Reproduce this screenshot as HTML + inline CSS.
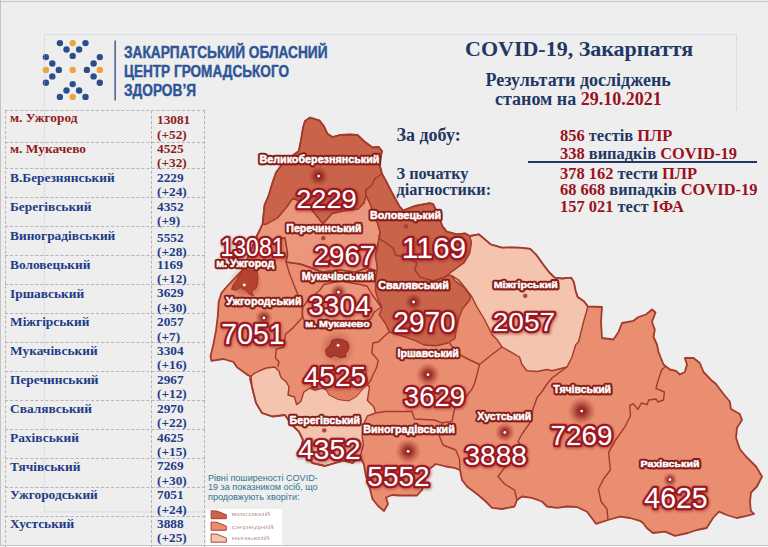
<!DOCTYPE html>
<html lang="uk"><head><meta charset="utf-8"><title>COVID-19, Закарпаття</title>
<style>
html,body{margin:0;padding:0}
body{width:768px;height:547px;overflow:hidden;background:#eeeeee;position:relative;font-family:"Liberation Serif",serif}
.frame{position:absolute;background:#c4c4c4}
#tbl{position:absolute;left:0;top:0}
.hl{position:absolute;left:4.5px;width:200px;height:0;border-top:1px dashed #b5b5b5}
.row{position:absolute;left:4.5px;width:200px;height:28px;padding-top:1px;box-sizing:border-box;font-weight:bold;font-size:13.3px;line-height:14.3px}
.row.r{color:#8e1d1d} .row.b{color:#1f3c88}
.row .n{position:absolute;left:5.5px;top:0.5px;white-space:nowrap;font-size:13.4px}
.row .v{position:absolute;left:152.5px;top:0.3px;white-space:nowrap}
.vl{position:absolute;top:110.5px;height:437px;width:0;border-left:1px dashed #b5b5b5}
.t{position:absolute;white-space:nowrap;font-weight:bold;color:#1f3864}
.red{color:#9b111e}
#legend{position:absolute;left:208px;top:474px;font-family:"Liberation Sans",sans-serif;font-size:9.07px;line-height:9.45px;color:#2e7590;white-space:nowrap}
#lbox{position:absolute;left:206px;top:508.7px;width:75.5px;height:36px;background:#fff}
#lbox span{position:absolute;left:27px;font-family:"Liberation Sans",sans-serif;font-size:5.5px;color:#c9a79a;letter-spacing:0.2px}
</style></head><body>
<div class="frame" style="left:0;top:1px;width:768px;height:1px"></div>
<div class="frame" style="left:0;top:0;width:1px;height:547px"></div>
<div class="frame" style="left:0;top:545px;width:768px;height:1px"></div>
<div style="position:absolute;left:0;top:546px;width:768px;height:1px;background:#fafafa"></div>
<svg width="768" height="547" viewBox="0 0 768 547" style="position:absolute;left:0;top:0">
<circle cx="59.9" cy="43.1" r="3.2" fill="#2b4f8e"/>
<circle cx="72.7" cy="43.1" r="3.2" fill="#f0a23c"/>
<circle cx="85.5" cy="43.1" r="3.2" fill="#2b4f8e"/>
<circle cx="66.5" cy="49.5" r="3.2" fill="#2b4f8e"/>
<circle cx="79.1" cy="49.5" r="3.2" fill="#2b4f8e"/>
<circle cx="72.7" cy="55.9" r="3.2" fill="#2b4f8e"/>
<circle cx="72.7" cy="84.1" r="3.2" fill="#2b4f8e"/>
<circle cx="66.5" cy="90.5" r="3.2" fill="#2b4f8e"/>
<circle cx="79.1" cy="90.5" r="3.2" fill="#2b4f8e"/>
<circle cx="59.9" cy="96.9" r="3.2" fill="#2b4f8e"/>
<circle cx="72.7" cy="96.9" r="3.2" fill="#f0a23c"/>
<circle cx="85.5" cy="96.9" r="3.2" fill="#2b4f8e"/>
<circle cx="45.9" cy="57.1" r="3.2" fill="#2b4f8e"/>
<circle cx="52.3" cy="63.5" r="3.2" fill="#2b4f8e"/>
<circle cx="45.9" cy="69.9" r="3.2" fill="#f0a23c"/>
<circle cx="58.8" cy="69.9" r="3.2" fill="#2b4f8e"/>
<circle cx="52.3" cy="76.4" r="3.2" fill="#2b4f8e"/>
<circle cx="45.9" cy="82.8" r="3.2" fill="#2b4f8e"/>
<circle cx="99.8" cy="57.1" r="3.2" fill="#2b4f8e"/>
<circle cx="93.6" cy="63.5" r="3.2" fill="#2b4f8e"/>
<circle cx="86.9" cy="69.9" r="3.2" fill="#2b4f8e"/>
<circle cx="99.8" cy="69.9" r="3.2" fill="#f0a23c"/>
<circle cx="93.6" cy="76.4" r="3.2" fill="#2b4f8e"/>
<circle cx="99.8" cy="82.8" r="3.2" fill="#2b4f8e"/>
<circle cx="72.7" cy="69.9" r="3.2" fill="#f0a23c"/>
<rect x="114.4" y="40.5" width="1.5" height="60" fill="#3f5f95"/>
<text x="124" y="58" textLength="203.5" lengthAdjust="spacingAndGlyphs" font-family="Liberation Sans, sans-serif" font-weight="bold" font-size="16.8" fill="#2d5597" stroke="#2d5597" stroke-width="0.45">ЗАКАРПАТСЬКИЙ ОБЛАСНИЙ</text>
<text x="124" y="77" textLength="165" lengthAdjust="spacingAndGlyphs" font-family="Liberation Sans, sans-serif" font-weight="bold" font-size="16.8" fill="#2d5597" stroke="#2d5597" stroke-width="0.45">ЦЕНТР ГРОМАДСЬКОГО</text>
<text x="124" y="95.5" textLength="72" lengthAdjust="spacingAndGlyphs" font-family="Liberation Sans, sans-serif" font-weight="bold" font-size="16.8" fill="#2d5597" stroke="#2d5597" stroke-width="0.45">ЗДОРОВ’Я</text>
<path d="M44.5,512 V34.5 H736.5 V110" fill="none" stroke="#a3bbe0" stroke-width="1" stroke-dasharray="1,1" opacity="0.6"/>
<path d="M44.5,512 H205" fill="none" stroke="#a3bbe0" stroke-width="1" stroke-dasharray="1,1" opacity="0.6"/>
</svg>
<div id="tbl">
<div class="hl" style="top:109.8px"></div>
<div class="hl" style="top:141.8px"></div>
<div class="hl" style="top:168.4px"></div>
<div class="hl" style="top:197.4px"></div>
<div class="hl" style="top:226.3px"></div>
<div class="hl" style="top:255.3px"></div>
<div class="hl" style="top:284.2px"></div>
<div class="hl" style="top:313.2px"></div>
<div class="hl" style="top:342.2px"></div>
<div class="hl" style="top:371.1px"></div>
<div class="hl" style="top:400.1px"></div>
<div class="hl" style="top:429.0px"></div>
<div class="hl" style="top:458.0px"></div>
<div class="hl" style="top:487.0px"></div>
<div class="hl" style="top:515.9px"></div>
<div class="row r" style="top:109.8px"><span class="n" style="margin-top:1.00px">м. Ужгород</span><span class="v" style="margin-top:3.40px">13081<br>(+52)</span></div>
<div class="row r" style="top:141.8px"><span class="n" style="margin-top:0.09px">м. Мукачево</span><span class="v" style="margin-top:0.09px">4525<br>(+32)</span></div>
<div class="row b" style="top:170.6px"><span class="n" style="margin-top:0.18px">В.Березнянський</span><span class="v" style="margin-top:0.18px">2229<br>(+24)</span></div>
<div class="row b" style="top:199.3px"><span class="n" style="margin-top:0.27px">Берегівський</span><span class="v" style="margin-top:0.27px">4352<br>(+9)</span></div>
<div class="row b" style="top:228.1px"><span class="n" style="margin-top:0.36px">Виноградівський</span><span class="v" style="margin-top:2.16px">5552<br>(+28)</span></div>
<div class="row b" style="top:256.8px"><span class="n" style="margin-top:0.45px">Воловецький</span><span class="v" style="margin-top:0.45px">1169<br>(+12)</span></div>
<div class="row b" style="top:285.6px"><span class="n" style="margin-top:0.54px">Іршавський</span><span class="v" style="margin-top:0.54px">3629<br>(+30)</span></div>
<div class="row b" style="top:314.3px"><span class="n" style="margin-top:0.63px">Міжгірський</span><span class="v" style="margin-top:0.63px">2057<br>(+7)</span></div>
<div class="row b" style="top:343.1px"><span class="n" style="margin-top:0.72px">Мукачівський</span><span class="v" style="margin-top:0.72px">3304<br>(+16)</span></div>
<div class="row b" style="top:371.8px"><span class="n" style="margin-top:0.81px">Перечинський</span><span class="v" style="margin-top:0.81px">2967<br>(+12)</span></div>
<div class="row b" style="top:400.6px"><span class="n" style="margin-top:0.90px">Свалявський</span><span class="v" style="margin-top:0.90px">2970<br>(+22)</span></div>
<div class="row b" style="top:429.3px"><span class="n" style="margin-top:0.99px">Рахівський</span><span class="v" style="margin-top:0.99px">4625<br>(+15)</span></div>
<div class="row b" style="top:458.1px"><span class="n" style="margin-top:1.08px">Тячівський</span><span class="v" style="margin-top:1.08px">7269<br>(+30)</span></div>
<div class="row b" style="top:486.8px"><span class="n" style="margin-top:1.17px">Ужгородський</span><span class="v" style="margin-top:1.17px">7051<br>(+24)</span></div>
<div class="row b" style="top:515.5px"><span class="n" style="margin-top:1.26px">Хустський</span><span class="v" style="margin-top:1.26px">3888<br>(+25)</span></div>
</div>
<div class="vl" style="left:4.5px"></div><div class="vl" style="left:151px"></div><div class="vl" style="left:204px"></div>
<div class="t" style="left:465px;top:35.5px;font-size:22px;line-height:26px">COVID-19, Закарпаття</div>
<div class="t" style="left:485.5px;top:69.5px;font-size:18px;line-height:21px">Результати досліджень</div>
<div class="t" style="left:495px;top:89px;font-size:18px;line-height:21px">станом на <span class="red">29.10.2021</span></div>
<div class="t" style="left:396.5px;top:124.5px;font-size:18px;line-height:21px">За добу:</div>
<div class="t" style="left:396.5px;top:164px;font-size:16.3px;line-height:19px">З початку</div>
<div class="t" style="left:396.5px;top:180.25px;font-size:16.3px;line-height:19px">діагностики:</div>
<div class="t" style="left:560px;top:126px;font-size:16.45px;line-height:19px"><span class="red">856</span> тестів <span class="red">ПЛР</span></div>
<div class="t" style="left:560px;top:143.75px;font-size:16.45px;line-height:19px"><span class="red">338</span> випадків <span class="red">COVID-19</span></div>
<div style="position:absolute;left:528px;top:161px;width:229px;height:1.5px;background:#1f3864"></div>
<div class="t" style="left:560px;top:163.75px;font-size:16.45px;line-height:19px"><span class="red">378 162</span> тести <span class="red">ПЛР</span></div>
<div class="t" style="left:560px;top:180.25px;font-size:16.45px;line-height:19px"><span class="red">68 668</span> випадків <span class="red">COVID-19</span></div>
<div class="t" style="left:560px;top:197px;font-size:16.45px;line-height:19px"><span class="red">157 021</span> тест <span class="red">ІФА</span></div>
<svg id="map" width="768" height="547" viewBox="0 0 768 547" style="position:absolute;left:0;top:0">
<defs><radialGradient id="glow"><stop offset="0" stop-color="#851414" stop-opacity="0.95"/><stop offset="0.3" stop-color="#861616" stop-opacity="0.75"/><stop offset="0.6" stop-color="#8b1a1a" stop-opacity="0.38"/><stop offset="1" stop-color="#a03020" stop-opacity="0"/></radialGradient><radialGradient id="glow2"><stop offset="0" stop-color="#8b1a1a" stop-opacity="0.55"/><stop offset="0.5" stop-color="#8b1a1a" stop-opacity="0.3"/><stop offset="1" stop-color="#a03020" stop-opacity="0"/></radialGradient><filter id="sh" x="-10%" y="-20%" width="120%" height="150%"><feGaussianBlur stdDeviation="1.2"/></filter><filter id="sh2" x="-10%" y="-30%" width="120%" height="170%"><feGaussianBlur stdDeviation="0.7"/></filter></defs>
<polygon points="303,127.5 305,121 310,117.5 319.5,120.5 323.8,126 327.5,133.8 332.5,137 340,135 350,134.5 357.5,135 363.8,141 372.5,147.5 378.8,147 382,151 380.5,158.8 380,166 382,173.8 386,181 392,192.7 399.3,206 403,210.5 414.8,206 429.5,203.2 433,204 438.6,215 442.3,226 446.8,231.6 456.9,234.3 465,233.4 469.7,236 478.8,234.3 484.3,238.9 490.7,244.4 502,247.6 511,247.4 520,247.6 530.2,248.8 536.6,255.2 543,264.2 549.4,272.5 554.6,277.6 562.3,278.5 571.2,277.6 573.8,282 575.7,291 577.6,296.9 584,301.3 587.9,306.5 602,307 601,322 602,338 613.5,339.5 618.5,332 622,323 633.5,320.8 638.5,317 646,314.5 652,309.5 655.5,312.5 652,322 654.8,329.5 653.5,337 657,344.5 658.5,352 663.5,364.5 669.8,369.5 676,370.8 679.8,374.5 684.8,372 687,364.5 684.8,358 693.5,358 699.8,363 703.5,372 712,380.8 716,384 723.5,394 729.8,401.5 731,409 739.8,414 742,420 737,427.8 736,437.8 739.8,449 746,456.5 756,466.5 762,476.5 757,486.5 751,492.5 750,501.7 750.8,510.8 754,514 746.7,515.8 736.7,518 726.7,515 719,511.7 713,518 706.7,528 696.7,530 688,533 675,535.8 665,531.7 653,533 646.7,528 643,523 640,520.8 630,518 620,516.6 608,520 596,523.8 587,511.8 577,507 567,506.5 557,507.8 547,506.5 542,501.5 532,497.8 522,496.5 517,500 514.5,506.5 502,509 492,507.8 485.8,501.5 477,494 467,486.5 462,480 460,470 454.5,467.8 445.8,466.5 435.8,464 429.5,469 425,480 422,490 417,495.5 399.5,495.5 392,495 386,497.5 388,504 384,511 378,506 372.5,499 370,489 366,476.5 363.8,464 360,457 352.5,463 343.8,460.5 335,463 325,466 312.5,463 307.5,458 300,451.5 303,440 298.8,431.5 291,424 285,415 272.5,416.5 262,413 256,403 252,387 250.7,376.4 247,374.6 237,367.3 233.3,361.8 223.3,359 211.4,360.9 210.5,356.3 213.2,345.3 216,330.7 217.8,316 218.7,301.5 221.5,293 226.9,286.5 233,280 241.6,271 249,255 257,235.6 259.8,230 262.6,223.8 263.5,214.6 264.5,205 268.8,195 272.5,182.5 276,172.5 282.5,163.8 290,157.5 298.8,151 301,140" fill="#e98e71" stroke="none"/>
<polygon points="323.8,284.5 320.3,289.7 308.2,300 303,307 302,315.8 306.5,324.4 320,327 350,327 370.7,319 374.2,312.3 381,307 372.4,295 367.2,286.3 360.3,284.5 340,281" fill="#ea967c" stroke="#a33b2c" stroke-width="1.4" stroke-linejoin="round"/>
<polygon points="265.5,224.5 277.4,218 286.6,207 293,198 305,204 314,212.6 323,223.8 332,213.5 345,210.5 358,209 364,203 366,195 371,206 377.4,222.4 380,231.6 378.3,242.5 375.5,255.3 377.4,268 376.9,271 367,268 355,272 340,270 322,272 312,268 300,264 286,262 287.6,254 285,238 272,240 262,243 254,243 257,235.6 259.8,230 262.6,223.8" fill="#eb977d" stroke="#a33b2c" stroke-width="1.4" stroke-linejoin="round"/>
<polygon points="303,127.5 305,121 310,117.5 319.5,120.5 323.8,126 327.5,133.8 332.5,137 340,135 350,134.5 357.5,135 363.8,141 372.5,147.5 378.8,147 382,151 380.5,158.8 380,166 382,173.8 375,178.8 372,185 366,190 366,195 364,203 358,209 345,210.5 332,213.5 323,223.8 314,212.6 305,204 293,198 286.6,207 277.4,218 265.5,224.5 262.6,223.8 263.5,214.6 264.5,205 268.8,195 272.5,182.5 276,172.5 282.5,163.8 290,157.5 298.8,151 301,140" fill="#c9634a" stroke="#a33b2c" stroke-width="1.4" stroke-linejoin="round"/>
<polygon points="382,173.8 386,181 392,192.7 399.3,206 403,210.5 414.8,206 429.5,203.2 433,204 438.6,215 442.3,226 446.8,231.6 456.9,234.3 465,233.4 469.7,236 471.5,242.5 469.7,253.5 464.2,262.6 456.9,268 451.4,271.8 447.7,275.4 444,277.3 433,281 420.3,277.3 414.8,270 416.7,262.6 408,258 395.6,255.3 393,248 386,243 379.2,238.9 380,231.6 377.4,222.4 371,206 366,195 366,190 372,185 375,178.8" fill="#c9634a" stroke="#a33b2c" stroke-width="1.4" stroke-linejoin="round"/>
<polygon points="377.4,222.4 380,231.6 379.2,238.9 386,243 393,248 395.6,255.3 408,258 416.7,262.6 414.8,270 420.3,277.3 433,281 444,277.3 447.7,275.4 451.4,275.4 455,281 464.2,287.3 470.6,296.5 469.7,300 462.4,309 458.7,318.4 456,331 455,338.5 447.8,343 436.8,345.8 424,345 414.8,340.3 402,336 389.3,332 385.6,323.9 379.2,314.7 382,307.4 378.3,300 375.5,291 375.5,281 377.4,268 375.5,255.3 378.3,242.5 380,231.6" fill="#c9634a" stroke="#a33b2c" stroke-width="1.4" stroke-linejoin="round"/>
<polygon points="469.7,236 478.8,234.3 484.3,238.9 490.7,244.4 502,247.6 511,247.4 520,247.6 530.2,248.8 536.6,255.2 543,264.2 549.4,272.5 554.6,277.6 562.3,278.5 571.2,277.6 573.8,282 575.7,291 577.6,296.9 584,301.3 587.9,306.5 583.5,322 578.5,342 575.8,344.5 572,357 567,367 552,370.8 547,369.5 537,371.5 527,370.8 522,364.5 519.5,357 502,347 497,339.5 492,334.5 484.5,319.5 477,307 472,297 464.5,287 458.7,280 451.4,275.4 447.7,275.4 451.4,271.8 456.9,268 464.2,262.6 469.7,253.5 471.5,242.5" fill="#f4c4ae" stroke="#a33b2c" stroke-width="1.4" stroke-linejoin="round"/>
<polygon points="249.7,378.5 252.8,374.4 259,371 266.4,368 274.7,367 278.9,371 281,377.5 286,381.7 289,387 288,395 294.5,397 296.6,404.6 300.8,401.5 303.9,392 310,388 315,390 322.6,388 326.8,390 332,395 340,399.4 348.7,400.4 354.9,396 361,389 367.4,384.8 369.5,387 367.4,400.4 373.7,406.7 375.7,413 367.4,416 365,421 362,435.4 363.4,444.6 360,457 352.5,463 343.8,460.5 335,463 325,466 312.5,463 307.5,458 300,451.5 303,440 298.8,431.5 291,424 285,415 272.5,416.5 262,413 256,403 252,387" fill="#f4c4ae" stroke="#a33b2c" stroke-width="1.4" stroke-linejoin="round"/>
<polygon points="322,370 325,387 328.8,394.9 338,399.5 349,401 356.8,396.4 363,388.7 367.6,384 366,370" fill="#e17d61" stroke="#a33b2c" stroke-width="1" stroke-linejoin="round"/>
<polyline points="252,245 262,243 272,240 285,238 287.6,254 286,262 300,264 312,268 322,272 340,270 355,272 367,268 376.9,271" fill="none" stroke="#a33b2c" stroke-width="1.4" stroke-linejoin="round"/>
<polyline points="286,262 290,275 296,290 301.9,305 302.8,317 292.8,328 285.4,334.4 283.6,347.2 276.3,349 275.4,358 279,362 277.8,367" fill="none" stroke="#a33b2c" stroke-width="1.4" stroke-linejoin="round"/>
<polyline points="389.3,332 383.8,336.7 378.3,342 372.8,343 371.9,353 378.3,360.4 376.5,367.8 372.8,375 371,380 367.4,384.8" fill="none" stroke="#a33b2c" stroke-width="1.4" stroke-linejoin="round"/>
<polyline points="375.7,413 385,411.5 392,411.5 412,411.5 414.5,419 434.5,420 442,422.8 452,421.5 454.5,409 464.5,399 472,389 474.5,383.8 477,374.5 479.5,364.5 492,354.5 502,347" fill="none" stroke="#a33b2c" stroke-width="1.4" stroke-linejoin="round"/>
<polyline points="442,422.8 439.5,436.5 443,445 455.8,450 459.5,459 460,470" fill="none" stroke="#a33b2c" stroke-width="1.4" stroke-linejoin="round"/>
<polyline points="567,367 560,372 552,378 547,384 542,391.5 537,397.8 533,409 530.8,421.5 522,434 518,441.5 522,446.5 517,456.5 504.5,467.8 498,476.5 504.5,484 514.5,490 517,500" fill="none" stroke="#a33b2c" stroke-width="1.4" stroke-linejoin="round"/>
<polyline points="449.5,343 455,350 462,356 470,360 479.5,364.5" fill="none" stroke="#a33b2c" stroke-width="1.4" stroke-linejoin="round"/>
<polyline points="664.8,367 661.6,370 658,381 656,388.3 664.4,392 663.5,400 658,402 656,399 648.8,400 647,404.7 641.5,403 637.9,409.3 633.3,403.8 629.6,405.6 630.5,415.7 625,426.7 616,439.5 608.6,452.3 610.4,470 603.5,479 598.5,489 601,501.5 607,509 608,520" fill="none" stroke="#a33b2c" stroke-width="1.4" stroke-linejoin="round"/>
<polygon points="303,127.5 305,121 310,117.5 319.5,120.5 323.8,126 327.5,133.8 332.5,137 340,135 350,134.5 357.5,135 363.8,141 372.5,147.5 378.8,147 382,151 380.5,158.8 380,166 382,173.8 386,181 392,192.7 399.3,206 403,210.5 414.8,206 429.5,203.2 433,204 438.6,215 442.3,226 446.8,231.6 456.9,234.3 465,233.4 469.7,236 478.8,234.3 484.3,238.9 490.7,244.4 502,247.6 511,247.4 520,247.6 530.2,248.8 536.6,255.2 543,264.2 549.4,272.5 554.6,277.6 562.3,278.5 571.2,277.6 573.8,282 575.7,291 577.6,296.9 584,301.3 587.9,306.5 602,307 601,322 602,338 613.5,339.5 618.5,332 622,323 633.5,320.8 638.5,317 646,314.5 652,309.5 655.5,312.5 652,322 654.8,329.5 653.5,337 657,344.5 658.5,352 663.5,364.5 669.8,369.5 676,370.8 679.8,374.5 684.8,372 687,364.5 684.8,358 693.5,358 699.8,363 703.5,372 712,380.8 716,384 723.5,394 729.8,401.5 731,409 739.8,414 742,420 737,427.8 736,437.8 739.8,449 746,456.5 756,466.5 762,476.5 757,486.5 751,492.5 750,501.7 750.8,510.8 754,514 746.7,515.8 736.7,518 726.7,515 719,511.7 713,518 706.7,528 696.7,530 688,533 675,535.8 665,531.7 653,533 646.7,528 643,523 640,520.8 630,518 620,516.6 608,520 596,523.8 587,511.8 577,507 567,506.5 557,507.8 547,506.5 542,501.5 532,497.8 522,496.5 517,500 514.5,506.5 502,509 492,507.8 485.8,501.5 477,494 467,486.5 462,480 460,470 454.5,467.8 445.8,466.5 435.8,464 429.5,469 425,480 422,490 417,495.5 399.5,495.5 392,495 386,497.5 388,504 384,511 378,506 372.5,499 370,489 366,476.5 363.8,464 360,457 352.5,463 343.8,460.5 335,463 325,466 312.5,463 307.5,458 300,451.5 303,440 298.8,431.5 291,424 285,415 272.5,416.5 262,413 256,403 252,387 250.7,376.4 247,374.6 237,367.3 233.3,361.8 223.3,359 211.4,360.9 210.5,356.3 213.2,345.3 216,330.7 217.8,316 218.7,301.5 221.5,293 226.9,286.5 233,280 241.6,271 249,255 257,235.6 259.8,230 262.6,223.8 263.5,214.6 264.5,205 268.8,195 272.5,182.5 276,172.5 282.5,163.8 290,157.5 298.8,151 301,140" fill="none" stroke="#a33b2c" stroke-width="1.8" stroke-linejoin="round"/>
<circle cx="246" cy="283" r="17" fill="url(#glow2)"/>
<circle cx="337.5" cy="348" r="18" fill="url(#glow2)"/>
<polygon points="241.5,271 245.2,269.6 257,271 258,276.5 257.5,283.8 256.1,288.3 251.6,291 253.4,295.6 249.7,294.7 246,290.2 240.6,287.4 236,290.2 231.5,289.3 233.3,284.7 236.9,280 239.7,274.6" fill="#b5432f" stroke="#9a3426" stroke-width="1" stroke-linejoin="round"/>
<polygon points="331.9,340.5 336.6,339 342.8,339.8 347.5,342 349,346.7 347.5,351.4 345,353.7 345.9,356.8 339.7,357.6 335,355.3 330.4,357.6 326.5,355.3 325.7,349.8 328.8,346.7 331.1,343.6" fill="#a93a2c" stroke="#8e2a20" stroke-width="1" stroke-linejoin="round"/>
<circle cx="318.6" cy="176.1" r="10.1" fill="url(#glow)"/>
<circle cx="318.6" cy="176.1" r="1.4" fill="#fff"/>
<circle cx="323.3" cy="238.2" r="1.9" fill="#a8483c" stroke="#96382c" stroke-width="0.6"/>
<circle cx="406" cy="226.4" r="1.9" fill="#a8483c" stroke="#96382c" stroke-width="0.6"/>
<circle cx="244.3" cy="285" r="1.4" fill="#fff"/>
<circle cx="338.5" cy="292.2" r="8.8" fill="url(#glow)"/>
<circle cx="338.5" cy="292.2" r="1.4" fill="#fff"/>
<circle cx="263.9" cy="317.9" r="8.8" fill="url(#glow)"/>
<circle cx="263.9" cy="317.9" r="1.4" fill="#fff"/>
<circle cx="338.1" cy="345.3" r="1.4" fill="#fff"/>
<circle cx="413.6" cy="302" r="8.8" fill="url(#glow)"/>
<circle cx="413.6" cy="302" r="1.4" fill="#fff"/>
<circle cx="525.2" cy="295.8" r="1.9" fill="#a8483c" stroke="#96382c" stroke-width="0.6"/>
<circle cx="428" cy="374.7" r="12.2" fill="url(#glow)"/>
<circle cx="428" cy="374.7" r="1.4" fill="#fff"/>
<circle cx="324.3" cy="430.4" r="1.9" fill="#a8483c" stroke="#96382c" stroke-width="0.6"/>
<circle cx="408.1" cy="451.3" r="12.8" fill="url(#glow)"/>
<circle cx="408.1" cy="451.3" r="1.4" fill="#fff"/>
<circle cx="504.8" cy="432.4" r="10.1" fill="url(#glow)"/>
<circle cx="504.8" cy="432.4" r="1.4" fill="#fff"/>
<circle cx="581.7" cy="411.1" r="14.2" fill="url(#glow)"/>
<circle cx="581.7" cy="411.1" r="1.4" fill="#fff"/>
<circle cx="670" cy="479.7" r="7.4" fill="url(#glow)"/>
<circle cx="670" cy="479.7" r="1.4" fill="#fff"/>
<text x="259.45" y="163.05" textLength="120.00" lengthAdjust="spacingAndGlyphs" font-family="Liberation Sans, sans-serif" font-weight="bold" font-size="10.61" fill="#7a1712" stroke="#7a1712" stroke-width="3.1" stroke-linejoin="round" opacity="0.4" filter="url(#sh2)" transform="translate(0.7,0.9)">Великоберезнянський</text>
<text x="259.45" y="163.05" textLength="120.00" lengthAdjust="spacingAndGlyphs" font-family="Liberation Sans, sans-serif" font-weight="bold" font-size="10.61" fill="#861c18" stroke="#861c18" stroke-width="4.4" stroke-linejoin="round">Великоберезнянський</text>
<text x="259.45" y="163.05" textLength="120.00" lengthAdjust="spacingAndGlyphs" font-family="Liberation Sans, sans-serif" font-weight="bold" font-size="10.61" fill="#fff" stroke="#fff" stroke-width="0.45">Великоберезнянський</text>
<text x="286.35" y="231.65" textLength="75.20" lengthAdjust="spacingAndGlyphs" font-family="Liberation Sans, sans-serif" font-weight="bold" font-size="10.61" fill="#7a1712" stroke="#7a1712" stroke-width="3.1" stroke-linejoin="round" opacity="0.4" filter="url(#sh2)" transform="translate(0.7,0.9)">Перечинський</text>
<text x="286.35" y="231.65" textLength="75.20" lengthAdjust="spacingAndGlyphs" font-family="Liberation Sans, sans-serif" font-weight="bold" font-size="10.61" fill="#861c18" stroke="#861c18" stroke-width="4.4" stroke-linejoin="round">Перечинський</text>
<text x="286.35" y="231.65" textLength="75.20" lengthAdjust="spacingAndGlyphs" font-family="Liberation Sans, sans-serif" font-weight="bold" font-size="10.61" fill="#fff" stroke="#fff" stroke-width="0.45">Перечинський</text>
<text x="370.05" y="219.45" textLength="71.00" lengthAdjust="spacingAndGlyphs" font-family="Liberation Sans, sans-serif" font-weight="bold" font-size="10.47" fill="#7a1712" stroke="#7a1712" stroke-width="3.1" stroke-linejoin="round" opacity="0.4" filter="url(#sh2)" transform="translate(0.7,0.9)">Воловецький</text>
<text x="370.05" y="219.45" textLength="71.00" lengthAdjust="spacingAndGlyphs" font-family="Liberation Sans, sans-serif" font-weight="bold" font-size="10.47" fill="#861c18" stroke="#861c18" stroke-width="4.4" stroke-linejoin="round">Воловецький</text>
<text x="370.05" y="219.45" textLength="71.00" lengthAdjust="spacingAndGlyphs" font-family="Liberation Sans, sans-serif" font-weight="bold" font-size="10.47" fill="#fff" stroke="#fff" stroke-width="0.45">Воловецький</text>
<text x="378.25" y="289.15" textLength="70.50" lengthAdjust="spacingAndGlyphs" font-family="Liberation Sans, sans-serif" font-weight="bold" font-size="10.06" fill="#7a1712" stroke="#7a1712" stroke-width="3.1" stroke-linejoin="round" opacity="0.4" filter="url(#sh2)" transform="translate(0.7,0.9)">Свалявський</text>
<text x="378.25" y="289.15" textLength="70.50" lengthAdjust="spacingAndGlyphs" font-family="Liberation Sans, sans-serif" font-weight="bold" font-size="10.06" fill="#861c18" stroke="#861c18" stroke-width="4.4" stroke-linejoin="round">Свалявський</text>
<text x="378.25" y="289.15" textLength="70.50" lengthAdjust="spacingAndGlyphs" font-family="Liberation Sans, sans-serif" font-weight="bold" font-size="10.06" fill="#fff" stroke="#fff" stroke-width="0.45">Свалявський</text>
<text x="493.75" y="287.85" textLength="64.00" lengthAdjust="spacingAndGlyphs" font-family="Liberation Sans, sans-serif" font-weight="bold" font-size="9.92" fill="#7a1712" stroke="#7a1712" stroke-width="3.1" stroke-linejoin="round" opacity="0.4" filter="url(#sh2)" transform="translate(0.7,0.9)">Міжгірський</text>
<text x="493.75" y="287.85" textLength="64.00" lengthAdjust="spacingAndGlyphs" font-family="Liberation Sans, sans-serif" font-weight="bold" font-size="9.92" fill="#861c18" stroke="#861c18" stroke-width="4.4" stroke-linejoin="round">Міжгірський</text>
<text x="493.75" y="287.85" textLength="64.00" lengthAdjust="spacingAndGlyphs" font-family="Liberation Sans, sans-serif" font-weight="bold" font-size="9.92" fill="#fff" stroke="#fff" stroke-width="0.45">Міжгірський</text>
<text x="301.75" y="280.05" textLength="72.40" lengthAdjust="spacingAndGlyphs" font-family="Liberation Sans, sans-serif" font-weight="bold" font-size="10.61" fill="#7a1712" stroke="#7a1712" stroke-width="3.1" stroke-linejoin="round" opacity="0.4" filter="url(#sh2)" transform="translate(0.7,0.9)">Мукачівський</text>
<text x="301.75" y="280.05" textLength="72.40" lengthAdjust="spacingAndGlyphs" font-family="Liberation Sans, sans-serif" font-weight="bold" font-size="10.61" fill="#861c18" stroke="#861c18" stroke-width="4.4" stroke-linejoin="round">Мукачівський</text>
<text x="301.75" y="280.05" textLength="72.40" lengthAdjust="spacingAndGlyphs" font-family="Liberation Sans, sans-serif" font-weight="bold" font-size="10.61" fill="#fff" stroke="#fff" stroke-width="0.45">Мукачівський</text>
<text x="216.25" y="266.55" textLength="57.90" lengthAdjust="spacingAndGlyphs" font-family="Liberation Sans, sans-serif" font-weight="bold" font-size="10.06" fill="#7a1712" stroke="#7a1712" stroke-width="3.1" stroke-linejoin="round" opacity="0.4" filter="url(#sh2)" transform="translate(0.7,0.9)">м. Ужгород</text>
<text x="216.25" y="266.55" textLength="57.90" lengthAdjust="spacingAndGlyphs" font-family="Liberation Sans, sans-serif" font-weight="bold" font-size="10.06" fill="#861c18" stroke="#861c18" stroke-width="4.4" stroke-linejoin="round">м. Ужгород</text>
<text x="216.25" y="266.55" textLength="57.90" lengthAdjust="spacingAndGlyphs" font-family="Liberation Sans, sans-serif" font-weight="bold" font-size="10.06" fill="#fff" stroke="#fff" stroke-width="0.45">м. Ужгород</text>
<text x="225.95" y="304.85" textLength="75.60" lengthAdjust="spacingAndGlyphs" font-family="Liberation Sans, sans-serif" font-weight="bold" font-size="10.47" fill="#7a1712" stroke="#7a1712" stroke-width="3.1" stroke-linejoin="round" opacity="0.4" filter="url(#sh2)" transform="translate(0.7,0.9)">Ужгородський</text>
<text x="225.95" y="304.85" textLength="75.60" lengthAdjust="spacingAndGlyphs" font-family="Liberation Sans, sans-serif" font-weight="bold" font-size="10.47" fill="#861c18" stroke="#861c18" stroke-width="4.4" stroke-linejoin="round">Ужгородський</text>
<text x="225.95" y="304.85" textLength="75.60" lengthAdjust="spacingAndGlyphs" font-family="Liberation Sans, sans-serif" font-weight="bold" font-size="10.47" fill="#fff" stroke="#fff" stroke-width="0.45">Ужгородський</text>
<text x="305.35" y="326.65" textLength="64.40" lengthAdjust="spacingAndGlyphs" font-family="Liberation Sans, sans-serif" font-weight="bold" font-size="9.22" fill="#7a1712" stroke="#7a1712" stroke-width="3.1" stroke-linejoin="round" opacity="0.4" filter="url(#sh2)" transform="translate(0.7,0.9)">м. Мукачево</text>
<text x="305.35" y="326.65" textLength="64.40" lengthAdjust="spacingAndGlyphs" font-family="Liberation Sans, sans-serif" font-weight="bold" font-size="9.22" fill="#861c18" stroke="#861c18" stroke-width="4.4" stroke-linejoin="round">м. Мукачево</text>
<text x="305.35" y="326.65" textLength="64.40" lengthAdjust="spacingAndGlyphs" font-family="Liberation Sans, sans-serif" font-weight="bold" font-size="9.22" fill="#fff" stroke="#fff" stroke-width="0.45">м. Мукачево</text>
<text x="397.45" y="356.55" textLength="61.50" lengthAdjust="spacingAndGlyphs" font-family="Liberation Sans, sans-serif" font-weight="bold" font-size="10.47" fill="#7a1712" stroke="#7a1712" stroke-width="3.1" stroke-linejoin="round" opacity="0.4" filter="url(#sh2)" transform="translate(0.7,0.9)">Іршавський</text>
<text x="397.45" y="356.55" textLength="61.50" lengthAdjust="spacingAndGlyphs" font-family="Liberation Sans, sans-serif" font-weight="bold" font-size="10.47" fill="#861c18" stroke="#861c18" stroke-width="4.4" stroke-linejoin="round">Іршавський</text>
<text x="397.45" y="356.55" textLength="61.50" lengthAdjust="spacingAndGlyphs" font-family="Liberation Sans, sans-serif" font-weight="bold" font-size="10.47" fill="#fff" stroke="#fff" stroke-width="0.45">Іршавський</text>
<text x="289.55" y="423.75" textLength="70.60" lengthAdjust="spacingAndGlyphs" font-family="Liberation Sans, sans-serif" font-weight="bold" font-size="10.47" fill="#7a1712" stroke="#7a1712" stroke-width="3.1" stroke-linejoin="round" opacity="0.4" filter="url(#sh2)" transform="translate(0.7,0.9)">Берегівський</text>
<text x="289.55" y="423.75" textLength="70.60" lengthAdjust="spacingAndGlyphs" font-family="Liberation Sans, sans-serif" font-weight="bold" font-size="10.47" fill="#861c18" stroke="#861c18" stroke-width="4.4" stroke-linejoin="round">Берегівський</text>
<text x="289.55" y="423.75" textLength="70.60" lengthAdjust="spacingAndGlyphs" font-family="Liberation Sans, sans-serif" font-weight="bold" font-size="10.47" fill="#fff" stroke="#fff" stroke-width="0.45">Берегівський</text>
<text x="363.15" y="432.75" textLength="91.60" lengthAdjust="spacingAndGlyphs" font-family="Liberation Sans, sans-serif" font-weight="bold" font-size="10.47" fill="#7a1712" stroke="#7a1712" stroke-width="3.1" stroke-linejoin="round" opacity="0.4" filter="url(#sh2)" transform="translate(0.7,0.9)">Виноградівський</text>
<text x="363.15" y="432.75" textLength="91.60" lengthAdjust="spacingAndGlyphs" font-family="Liberation Sans, sans-serif" font-weight="bold" font-size="10.47" fill="#861c18" stroke="#861c18" stroke-width="4.4" stroke-linejoin="round">Виноградівський</text>
<text x="363.15" y="432.75" textLength="91.60" lengthAdjust="spacingAndGlyphs" font-family="Liberation Sans, sans-serif" font-weight="bold" font-size="10.47" fill="#fff" stroke="#fff" stroke-width="0.45">Виноградівський</text>
<text x="477.25" y="419.95" textLength="54.10" lengthAdjust="spacingAndGlyphs" font-family="Liberation Sans, sans-serif" font-weight="bold" font-size="10.47" fill="#7a1712" stroke="#7a1712" stroke-width="3.1" stroke-linejoin="round" opacity="0.4" filter="url(#sh2)" transform="translate(0.7,0.9)">Хустський</text>
<text x="477.25" y="419.95" textLength="54.10" lengthAdjust="spacingAndGlyphs" font-family="Liberation Sans, sans-serif" font-weight="bold" font-size="10.47" fill="#861c18" stroke="#861c18" stroke-width="4.4" stroke-linejoin="round">Хустський</text>
<text x="477.25" y="419.95" textLength="54.10" lengthAdjust="spacingAndGlyphs" font-family="Liberation Sans, sans-serif" font-weight="bold" font-size="10.47" fill="#fff" stroke="#fff" stroke-width="0.45">Хустський</text>
<text x="553.25" y="392.65" textLength="57.80" lengthAdjust="spacingAndGlyphs" font-family="Liberation Sans, sans-serif" font-weight="bold" font-size="10.06" fill="#7a1712" stroke="#7a1712" stroke-width="3.1" stroke-linejoin="round" opacity="0.4" filter="url(#sh2)" transform="translate(0.7,0.9)">Тячівський</text>
<text x="553.25" y="392.65" textLength="57.80" lengthAdjust="spacingAndGlyphs" font-family="Liberation Sans, sans-serif" font-weight="bold" font-size="10.06" fill="#861c18" stroke="#861c18" stroke-width="4.4" stroke-linejoin="round">Тячівський</text>
<text x="553.25" y="392.65" textLength="57.80" lengthAdjust="spacingAndGlyphs" font-family="Liberation Sans, sans-serif" font-weight="bold" font-size="10.06" fill="#fff" stroke="#fff" stroke-width="0.45">Тячівський</text>
<text x="640.55" y="467.05" textLength="59.00" lengthAdjust="spacingAndGlyphs" font-family="Liberation Sans, sans-serif" font-weight="bold" font-size="9.78" fill="#7a1712" stroke="#7a1712" stroke-width="3.1" stroke-linejoin="round" opacity="0.4" filter="url(#sh2)" transform="translate(0.7,0.9)">Рахівський</text>
<text x="640.55" y="467.05" textLength="59.00" lengthAdjust="spacingAndGlyphs" font-family="Liberation Sans, sans-serif" font-weight="bold" font-size="9.78" fill="#861c18" stroke="#861c18" stroke-width="4.4" stroke-linejoin="round">Рахівський</text>
<text x="640.55" y="467.05" textLength="59.00" lengthAdjust="spacingAndGlyphs" font-family="Liberation Sans, sans-serif" font-weight="bold" font-size="9.78" fill="#fff" stroke="#fff" stroke-width="0.45">Рахівський</text>
<text x="296.15" y="208.45" textLength="60.50" lengthAdjust="spacingAndGlyphs" font-family="Liberation Sans, sans-serif" font-size="26.12" fill="#8b1a1a" stroke="#8b1a1a" stroke-width="6.2" stroke-linejoin="round" opacity="0.38" filter="url(#sh)" transform="translate(0.7,1)">2229</text>
<text x="296.15" y="208.45" textLength="60.50" lengthAdjust="spacingAndGlyphs" font-family="Liberation Sans, sans-serif" font-size="26.12" fill="#9c1620" stroke="#9c1620" stroke-width="4.7" stroke-linejoin="round">2229</text>
<text x="296.15" y="208.45" textLength="60.50" lengthAdjust="spacingAndGlyphs" font-family="Liberation Sans, sans-serif" font-size="26.12" fill="#fff" stroke="#fff" stroke-width="0.3" stroke-opacity="0.3">2229</text>
<text x="313.75" y="265.15" textLength="61.40" lengthAdjust="spacingAndGlyphs" font-family="Liberation Sans, sans-serif" font-size="27.51" fill="#8b1a1a" stroke="#8b1a1a" stroke-width="6.2" stroke-linejoin="round" opacity="0.38" filter="url(#sh)" transform="translate(0.7,1)">2967</text>
<text x="313.75" y="265.15" textLength="61.40" lengthAdjust="spacingAndGlyphs" font-family="Liberation Sans, sans-serif" font-size="27.51" fill="#9c1620" stroke="#9c1620" stroke-width="4.7" stroke-linejoin="round">2967</text>
<text x="313.75" y="265.15" textLength="61.40" lengthAdjust="spacingAndGlyphs" font-family="Liberation Sans, sans-serif" font-size="27.51" fill="#fff" stroke="#fff" stroke-width="0.3" stroke-opacity="0.3">2967</text>
<text x="401.85" y="258.45" textLength="64.30" lengthAdjust="spacingAndGlyphs" font-family="Liberation Sans, sans-serif" font-size="28.91" fill="#8b1a1a" stroke="#8b1a1a" stroke-width="6.2" stroke-linejoin="round" opacity="0.38" filter="url(#sh)" transform="translate(0.7,1)">1169</text>
<text x="401.85" y="258.45" textLength="64.30" lengthAdjust="spacingAndGlyphs" font-family="Liberation Sans, sans-serif" font-size="28.91" fill="#9c1620" stroke="#9c1620" stroke-width="4.7" stroke-linejoin="round">1169</text>
<text x="401.85" y="258.45" textLength="64.30" lengthAdjust="spacingAndGlyphs" font-family="Liberation Sans, sans-serif" font-size="28.91" fill="#fff" stroke="#fff" stroke-width="0.3" stroke-opacity="0.3">1169</text>
<text x="220.45" y="256.15" textLength="64.10" lengthAdjust="spacingAndGlyphs" font-family="Liberation Sans, sans-serif" font-size="26.26" fill="#8b1a1a" stroke="#8b1a1a" stroke-width="6.2" stroke-linejoin="round" opacity="0.38" filter="url(#sh)" transform="translate(0.7,1)">13081</text>
<text x="220.45" y="256.15" textLength="64.10" lengthAdjust="spacingAndGlyphs" font-family="Liberation Sans, sans-serif" font-size="26.26" fill="#9c1620" stroke="#9c1620" stroke-width="4.7" stroke-linejoin="round">13081</text>
<text x="220.45" y="256.15" textLength="64.10" lengthAdjust="spacingAndGlyphs" font-family="Liberation Sans, sans-serif" font-size="26.26" fill="#fff" stroke="#fff" stroke-width="0.3" stroke-opacity="0.3">13081</text>
<text x="308.25" y="315.35" textLength="62.30" lengthAdjust="spacingAndGlyphs" font-family="Liberation Sans, sans-serif" font-size="27.37" fill="#8b1a1a" stroke="#8b1a1a" stroke-width="6.2" stroke-linejoin="round" opacity="0.38" filter="url(#sh)" transform="translate(0.7,1)">3304</text>
<text x="308.25" y="315.35" textLength="62.30" lengthAdjust="spacingAndGlyphs" font-family="Liberation Sans, sans-serif" font-size="27.37" fill="#9c1620" stroke="#9c1620" stroke-width="4.7" stroke-linejoin="round">3304</text>
<text x="308.25" y="315.35" textLength="62.30" lengthAdjust="spacingAndGlyphs" font-family="Liberation Sans, sans-serif" font-size="27.37" fill="#fff" stroke="#fff" stroke-width="0.3" stroke-opacity="0.3">3304</text>
<text x="221.35" y="343.85" textLength="63.20" lengthAdjust="spacingAndGlyphs" font-family="Liberation Sans, sans-serif" font-size="28.63" fill="#8b1a1a" stroke="#8b1a1a" stroke-width="6.2" stroke-linejoin="round" opacity="0.38" filter="url(#sh)" transform="translate(0.7,1)">7051</text>
<text x="221.35" y="343.85" textLength="63.20" lengthAdjust="spacingAndGlyphs" font-family="Liberation Sans, sans-serif" font-size="28.63" fill="#9c1620" stroke="#9c1620" stroke-width="4.7" stroke-linejoin="round">7051</text>
<text x="221.35" y="343.85" textLength="63.20" lengthAdjust="spacingAndGlyphs" font-family="Liberation Sans, sans-serif" font-size="28.63" fill="#fff" stroke="#fff" stroke-width="0.3" stroke-opacity="0.3">7051</text>
<text x="393.35" y="332.45" textLength="62.30" lengthAdjust="spacingAndGlyphs" font-family="Liberation Sans, sans-serif" font-size="28.63" fill="#8b1a1a" stroke="#8b1a1a" stroke-width="6.2" stroke-linejoin="round" opacity="0.38" filter="url(#sh)" transform="translate(0.7,1)">2970</text>
<text x="393.35" y="332.45" textLength="62.30" lengthAdjust="spacingAndGlyphs" font-family="Liberation Sans, sans-serif" font-size="28.63" fill="#9c1620" stroke="#9c1620" stroke-width="4.7" stroke-linejoin="round">2970</text>
<text x="393.35" y="332.45" textLength="62.30" lengthAdjust="spacingAndGlyphs" font-family="Liberation Sans, sans-serif" font-size="28.63" fill="#fff" stroke="#fff" stroke-width="0.3" stroke-opacity="0.3">2970</text>
<text x="492.75" y="330.95" textLength="62.40" lengthAdjust="spacingAndGlyphs" font-family="Liberation Sans, sans-serif" font-size="25.84" fill="#8b1a1a" stroke="#8b1a1a" stroke-width="6.2" stroke-linejoin="round" opacity="0.38" filter="url(#sh)" transform="translate(0.7,1)">2057</text>
<text x="492.75" y="330.95" textLength="62.40" lengthAdjust="spacingAndGlyphs" font-family="Liberation Sans, sans-serif" font-size="25.84" fill="#9c1620" stroke="#9c1620" stroke-width="4.7" stroke-linejoin="round">2057</text>
<text x="492.75" y="330.95" textLength="62.40" lengthAdjust="spacingAndGlyphs" font-family="Liberation Sans, sans-serif" font-size="25.84" fill="#fff" stroke="#fff" stroke-width="0.3" stroke-opacity="0.3">2057</text>
<text x="303.75" y="385.95" textLength="62.30" lengthAdjust="spacingAndGlyphs" font-family="Liberation Sans, sans-serif" font-size="27.37" fill="#8b1a1a" stroke="#8b1a1a" stroke-width="6.2" stroke-linejoin="round" opacity="0.38" filter="url(#sh)" transform="translate(0.7,1)">4525</text>
<text x="303.75" y="385.95" textLength="62.30" lengthAdjust="spacingAndGlyphs" font-family="Liberation Sans, sans-serif" font-size="27.37" fill="#9c1620" stroke="#9c1620" stroke-width="4.7" stroke-linejoin="round">4525</text>
<text x="303.75" y="385.95" textLength="62.30" lengthAdjust="spacingAndGlyphs" font-family="Liberation Sans, sans-serif" font-size="27.37" fill="#fff" stroke="#fff" stroke-width="0.3" stroke-opacity="0.3">4525</text>
<text x="403.85" y="405.95" textLength="61.30" lengthAdjust="spacingAndGlyphs" font-family="Liberation Sans, sans-serif" font-size="27.37" fill="#8b1a1a" stroke="#8b1a1a" stroke-width="6.2" stroke-linejoin="round" opacity="0.38" filter="url(#sh)" transform="translate(0.7,1)">3629</text>
<text x="403.85" y="405.95" textLength="61.30" lengthAdjust="spacingAndGlyphs" font-family="Liberation Sans, sans-serif" font-size="27.37" fill="#9c1620" stroke="#9c1620" stroke-width="4.7" stroke-linejoin="round">3629</text>
<text x="403.85" y="405.95" textLength="61.30" lengthAdjust="spacingAndGlyphs" font-family="Liberation Sans, sans-serif" font-size="27.37" fill="#fff" stroke="#fff" stroke-width="0.3" stroke-opacity="0.3">3629</text>
<text x="298.25" y="459.15" textLength="62.30" lengthAdjust="spacingAndGlyphs" font-family="Liberation Sans, sans-serif" font-size="27.51" fill="#8b1a1a" stroke="#8b1a1a" stroke-width="6.2" stroke-linejoin="round" opacity="0.38" filter="url(#sh)" transform="translate(0.7,1)">4352</text>
<text x="298.25" y="459.15" textLength="62.30" lengthAdjust="spacingAndGlyphs" font-family="Liberation Sans, sans-serif" font-size="27.51" fill="#9c1620" stroke="#9c1620" stroke-width="4.7" stroke-linejoin="round">4352</text>
<text x="298.25" y="459.15" textLength="62.30" lengthAdjust="spacingAndGlyphs" font-family="Liberation Sans, sans-serif" font-size="27.51" fill="#fff" stroke="#fff" stroke-width="0.3" stroke-opacity="0.3">4352</text>
<text x="367.35" y="486.15" textLength="62.30" lengthAdjust="spacingAndGlyphs" font-family="Liberation Sans, sans-serif" font-size="27.79" fill="#8b1a1a" stroke="#8b1a1a" stroke-width="6.2" stroke-linejoin="round" opacity="0.38" filter="url(#sh)" transform="translate(0.7,1)">5552</text>
<text x="367.35" y="486.15" textLength="62.30" lengthAdjust="spacingAndGlyphs" font-family="Liberation Sans, sans-serif" font-size="27.79" fill="#9c1620" stroke="#9c1620" stroke-width="4.7" stroke-linejoin="round">5552</text>
<text x="367.35" y="486.15" textLength="62.30" lengthAdjust="spacingAndGlyphs" font-family="Liberation Sans, sans-serif" font-size="27.79" fill="#fff" stroke="#fff" stroke-width="0.3" stroke-opacity="0.3">5552</text>
<text x="464.55" y="465.35" textLength="62.30" lengthAdjust="spacingAndGlyphs" font-family="Liberation Sans, sans-serif" font-size="27.37" fill="#8b1a1a" stroke="#8b1a1a" stroke-width="6.2" stroke-linejoin="round" opacity="0.38" filter="url(#sh)" transform="translate(0.7,1)">3888</text>
<text x="464.55" y="465.35" textLength="62.30" lengthAdjust="spacingAndGlyphs" font-family="Liberation Sans, sans-serif" font-size="27.37" fill="#9c1620" stroke="#9c1620" stroke-width="4.7" stroke-linejoin="round">3888</text>
<text x="464.55" y="465.35" textLength="62.30" lengthAdjust="spacingAndGlyphs" font-family="Liberation Sans, sans-serif" font-size="27.37" fill="#fff" stroke="#fff" stroke-width="0.3" stroke-opacity="0.3">3888</text>
<text x="550.55" y="445.35" textLength="61.80" lengthAdjust="spacingAndGlyphs" font-family="Liberation Sans, sans-serif" font-size="27.37" fill="#8b1a1a" stroke="#8b1a1a" stroke-width="6.2" stroke-linejoin="round" opacity="0.38" filter="url(#sh)" transform="translate(0.7,1)">7269</text>
<text x="550.55" y="445.35" textLength="61.80" lengthAdjust="spacingAndGlyphs" font-family="Liberation Sans, sans-serif" font-size="27.37" fill="#9c1620" stroke="#9c1620" stroke-width="4.7" stroke-linejoin="round">7269</text>
<text x="550.55" y="445.35" textLength="61.80" lengthAdjust="spacingAndGlyphs" font-family="Liberation Sans, sans-serif" font-size="27.37" fill="#fff" stroke="#fff" stroke-width="0.3" stroke-opacity="0.3">7269</text>
<text x="644.35" y="508.45" textLength="63.20" lengthAdjust="spacingAndGlyphs" font-family="Liberation Sans, sans-serif" font-size="28.91" fill="#8b1a1a" stroke="#8b1a1a" stroke-width="6.2" stroke-linejoin="round" opacity="0.38" filter="url(#sh)" transform="translate(0.7,1)">4625</text>
<text x="644.35" y="508.45" textLength="63.20" lengthAdjust="spacingAndGlyphs" font-family="Liberation Sans, sans-serif" font-size="28.91" fill="#9c1620" stroke="#9c1620" stroke-width="4.7" stroke-linejoin="round">4625</text>
<text x="644.35" y="508.45" textLength="63.20" lengthAdjust="spacingAndGlyphs" font-family="Liberation Sans, sans-serif" font-size="28.91" fill="#fff" stroke="#fff" stroke-width="0.3" stroke-opacity="0.3">4625</text>
</svg>
<div id="legend">Рівні поширеності COVID-<br>19 за показником осіб, що<br>продовжують хворіти:</div>
<div id="lbox">
<svg width="76" height="36" viewBox="0 0 76 36" style="position:absolute;left:0;top:0">
<polygon points="5.1,1.7 11,2 20.3,5.8 20.3,9.7 5.1,9.7" fill="#c9634a" stroke="#a0392b" stroke-width="0.9" stroke-linejoin="round"/>
<polygon points="5.1,13 11,13.3 20.3,17.1 20.3,21.3 5.1,21.3" fill="#e88b6e" stroke="#a0392b" stroke-width="0.9" stroke-linejoin="round"/>
<polygon points="5.1,24.9 11,25.2 20.3,29 20.3,33.2 5.1,33.2" fill="#f4c4ae" stroke="#a0392b" stroke-width="0.9" stroke-linejoin="round"/>
<g font-family="Liberation Sans, sans-serif" font-size="4.6" fill="#b9a49b">
<text x="25.4" y="7.4" textLength="39" lengthAdjust="spacingAndGlyphs">високий</text>
<text x="25.4" y="19.6" textLength="42.4" lengthAdjust="spacingAndGlyphs">середній</text>
<text x="25.4" y="31" textLength="38.2" lengthAdjust="spacingAndGlyphs">низький</text>
</g>
</svg>
</div>
</body></html>
